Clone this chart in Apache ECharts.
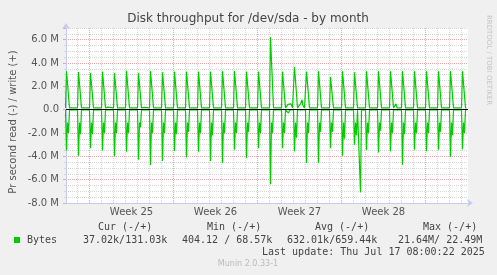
<!DOCTYPE html>
<html>
<head>
<meta charset="utf-8">
<script src="https://cdn.jsdelivr.net/npm/echarts@6/dist/echarts.min.js"></script>
<style>
    html, body { margin: 0; padding: 0; background: #f0f0f0; }
    #chart { width: 497px; height: 275px; }
</style>
</head>
<body>
<div id="chart"></div>
<script>
    // hours since Mon 16 Jun 2025 00:00 (start of week 25)
    const spikeHours = [-46, -22, 2, 26, 50, 74, 98, 122, 146, 170, 194, 218, 242, 266, 290, 314, 338,
        362, 386, 410, 434, 458, 482, 506, 530, 554, 578, 602, 626, 650, 674, 698, 722, 746];
    // daily write peak (M bytes/s)
    const writePeak = [3.3, 3.23, 3.14, 3.26, 3.14, 3.34, 3.14, 3.31, 3.2, 3.26, 3.26, 3.26, 3.26, 3.3, 3.31,
        3.26, 3.26, 6.2, 3.26, 3.66, 3.26, 3.3, 2.8, 3.3, 3.2, 3.3, 3.3, 3.3, 3.3, 3.3, 3.3, 3.3, 3.3, 3.3];
    // daily read, first (deep) and second dip (M bytes/s)
    const readDeep = [3.5, 3.94, 3.3, 3.5, 4.0, 3.6, 4.3, 4.75, 4.4, 3.55, 4.1, 3.6, 4.4, 4.57, 3.43,
        4.14, 3.3, 6.4, 3.3, 3.57, 4.57, 4.57, 3.3, 3.95, 3.0, 3.45, 3.66, 3.57, 4.71, 3.43, 3.57, 3.43, 4.06, 3.4];
    const readSecond = [2.0, 2.1, 2.1, 2.0, 2.0, 2.0, 1.5, 2.0, 2.0, 2.1, 1.9, 2.0, 2.2, 2.0, 2.0,
        1.9, 2.0, 2.0, 2.0, 2.4, 2.0, 1.9, 1.9, 2.5, 2.2, 2.0, 1.8, 2.0, 2.1, 2.0, 2.0, 1.9, 2.2, 2.0];
    const writeBase = 0.15;
    const readBase = 0.03;
    const readMid = 1.1;
    // odd small write bumps and the big read at week 28
    const writeBumps = [[32, 0.15], [34, 0.3], [37, 0.22], [39, 0.3], [41, 0.15],
        [104, 0.15], [106, 0.28], [109, 0.2], [111, 0.28], [113, 0.15],
        [394, 0.15], [397, 0.45], [400, 0.4], [403, 0.5], [406, 0.15],
        [419, 0.15], [422, 0.5], [425, 0.85], [427, 0.35], [430, 0.15],
        [611, 0.15], [613, 0.5], [615, 0.15], [733, 0.15], [735, 0.3], [737, 0.15]];
    const readBumps = [[540, -0.03], [542, -7.1], [544, -0.03], [396, -0.03], [398, -0.3], [400, -0.03]];
    const weekStarts = [0, 168, 336, 504, 672];
    const weekLabels = ['Week 25', 'Week 26', 'Week 27', 'Week 28'];
    const yLabels = [-8, -6, -4, -2, 0, 2, 4, 6];

    const xMin = -47, xMax = 757;

    const buildWrite = () => {
        let pts = [];
        spikeHours.forEach((h, i) => {
            pts.push([h - 2, writeBase], [h, writePeak[i]], [h + 6, writeBase]);
        });
        writeBumps.forEach((p) => pts.push(p));
        pts.push([754, writeBase]);
        pts.sort((a, b) => a[0] - b[0]);
        return pts.map((p) => [p[0], p[1] * 1e6]);
    };
    const buildRead = () => {
        let pts = [];
        spikeHours.forEach((h, i) => {
            pts.push([h - 2, -readBase], [h, -readDeep[i]], [h + 2, -readMid], [h + 4, -readSecond[i]], [h + 6, -readBase]);
        });
        readBumps.forEach((p) => pts.push(p));
        pts.push([754, -readBase]);
        pts.sort((a, b) => a[0] - b[0]);
        return pts.map((p) => [p[0], p[1] * 1e6]);
    };

    // day grid lines (weeks get their own red ones)
    let dayLines = [];
    for (let h = -24; h < xMax; h += 24) {
        if (weekStarts.indexOf(h) < 0) dayLines.push(h);
    }

    const axisBlue = '#c4ccf4';
    const minorGrid = '#d6d6d6';
    const majorGrid = '#e8a8a8';
    const mono = '10px "DejaVu Sans Mono"';

    const myChart = echarts.init(document.getElementById('chart'));
    const option = {
        animation: false,
        backgroundColor: '#f0f0f0',
        grid: {
            show: true,
            left: 66,
            top: 28,
            width: 402,
            height: 175,
            backgroundColor: '#ffffff',
            borderWidth: 0,
        },
        xAxis: {
            type: 'value',
            min: xMin,
            max: xMax,
            axisLine: { show: true, onZero: false, lineStyle: { color: axisBlue }, symbol: ['none', 'arrow'], symbolSize: [6, 6], symbolOffset: [0, 5] },
            axisTick: { show: false },
            splitLine: { show: false },
            axisLabel: {
                customValues: weekStarts.slice(0, 4).map((w) => w + 84),
                formatter: (v) => weekLabels[Math.round((v - 84) / 168)],
                color: '#555',
                fontFamily: 'DejaVu Sans',
                fontSize: 10,
                margin: 4,
            },
        },
        yAxis: [
            {
                type: 'value',
                position: 'left',
                min: -8e6,
                max: 7e6,
                interval: 5e5,
                axisLine: { show: true, onZero: false, lineStyle: { color: axisBlue }, symbol: ['none', 'arrow'], symbolSize: [6, 6], symbolOffset: [0, 5] },
                axisTick: { show: true, length: 2, lineStyle: { color: minorGrid } },
                splitLine: { show: true, showMinLine: false, lineStyle: { color: minorGrid, type: [1, 1] } },
                axisLabel: { show: false },
            },
            {
                type: 'value',
                position: 'left',
                min: -8e6,
                max: 7e6,
                interval: 2e6,
                axisLine: { show: false, onZero: false },
                axisTick: { show: true, length: 3, lineStyle: { color: majorGrid } },
                splitLine: { show: true, showMinLine: false, showMaxLine: false, lineStyle: { color: majorGrid, type: [1, 1] } },
                axisLabel: {
                    customValues: yLabels.map((v) => v * 1e6),
                    formatter: (v) => (v === 0 ? '0.0' : (v / 1e6).toFixed(1) + ' M'),
                    color: '#555',
                    fontFamily: 'DejaVu Sans',
                    fontSize: 10,
                    margin: 7,
                },
            },
        ],
        series: [
            {
                // vertical day / week grid
                type: 'line',
                data: [],
                markLine: {
                    silent: true,
                    z: 1,
                    symbol: 'none',
                    label: { show: false },
                    data: dayLines.map((h) => ({ xAxis: h, lineStyle: { color: minorGrid, width: 1, type: [1, 1] } }))
                        .concat(weekStarts.map((h) => ({ xAxis: h, lineStyle: { color: majorGrid, width: 1, type: [1, 1] } }))),
                },
            },
            {
                name: 'write',
                type: 'line',
                data: buildWrite(),
                showSymbol: false,
                lineStyle: { color: '#00cc00', width: 1.2 },
                itemStyle: { color: '#00cc00' },
                z: 3,
            },
            {
                name: 'read',
                type: 'line',
                data: buildRead(),
                showSymbol: false,
                lineStyle: { color: '#00cc00', width: 1.2 },
                itemStyle: { color: '#00cc00' },
                z: 3,
            },
            {
                // zero line
                type: 'line',
                data: [],
                markLine: {
                    silent: true,
                    z: 6,
                    symbol: 'none',
                    label: { show: false },
                    lineStyle: { color: '#000', width: 1, type: 'solid' },
                    data: [{ yAxis: 0 }],
                },
            },
        ],
        graphic: [
            { type: 'text', x: 248, y: 19, style: { text: 'Disk throughput for /dev/sda - by month', font: '12px "DejaVu Sans"', fill: '#444', align: 'center', verticalAlign: 'middle' } },
            { type: 'text', x: 13, y: 122, rotation: Math.PI / 2, style: { text: 'Pr second read (-) / write (+)', font: '10px "DejaVu Sans"', fill: '#555', align: 'center', verticalAlign: 'middle' } },
            { type: 'text', x: 489, y: 60, rotation: -Math.PI / 2, style: { text: 'RRDTOOL / TOBI OETIKER', font: '7px "DejaVu Sans"', fill: '#c4c4c4', align: 'center', verticalAlign: 'middle' } },
            { type: 'text', x: 98, y: 227.5, style: { text: 'Cur (-/+)', font: mono, fill: '#444', verticalAlign: 'middle' } },
            { type: 'text', x: 207, y: 227.5, style: { text: 'Min (-/+)', font: mono, fill: '#444', verticalAlign: 'middle' } },
            { type: 'text', x: 315, y: 227.5, style: { text: 'Avg (-/+)', font: mono, fill: '#444', verticalAlign: 'middle' } },
            { type: 'text', x: 423, y: 227.5, style: { text: 'Max (-/+)', font: mono, fill: '#444', verticalAlign: 'middle' } },
            { type: 'rect', shape: { x: 14, y: 237, width: 6, height: 6 }, style: { fill: '#00cc00' } },
            { type: 'text', x: 27, y: 240, style: { text: 'Bytes', font: mono, fill: '#444', verticalAlign: 'middle' } },
            { type: 'text', x: 83, y: 240, style: { text: '37.02k/131.03k', font: mono, fill: '#444', verticalAlign: 'middle' } },
            { type: 'text', x: 182, y: 240, style: { text: '404.12 / 68.57k', font: mono, fill: '#444', verticalAlign: 'middle' } },
            { type: 'text', x: 287, y: 240, style: { text: '632.01k/659.44k', font: mono, fill: '#444', verticalAlign: 'middle' } },
            { type: 'text', x: 398, y: 240, style: { text: '21.64M/ 22.49M', font: mono, fill: '#444', verticalAlign: 'middle' } },
            { type: 'text', x: 262, y: 252, style: { text: 'Last update: Thu Jul 17 08:00:22 2025', font: mono, fill: '#444', verticalAlign: 'middle' } },
            { type: 'text', x: 248, y: 264, style: { text: 'Munin 2.0.33-1', font: '8px "DejaVu Sans"', fill: '#bbbbbb', align: 'center', verticalAlign: 'middle' } },
        ],
    };
    myChart.setOption(option);
</script>
</body>
</html>
